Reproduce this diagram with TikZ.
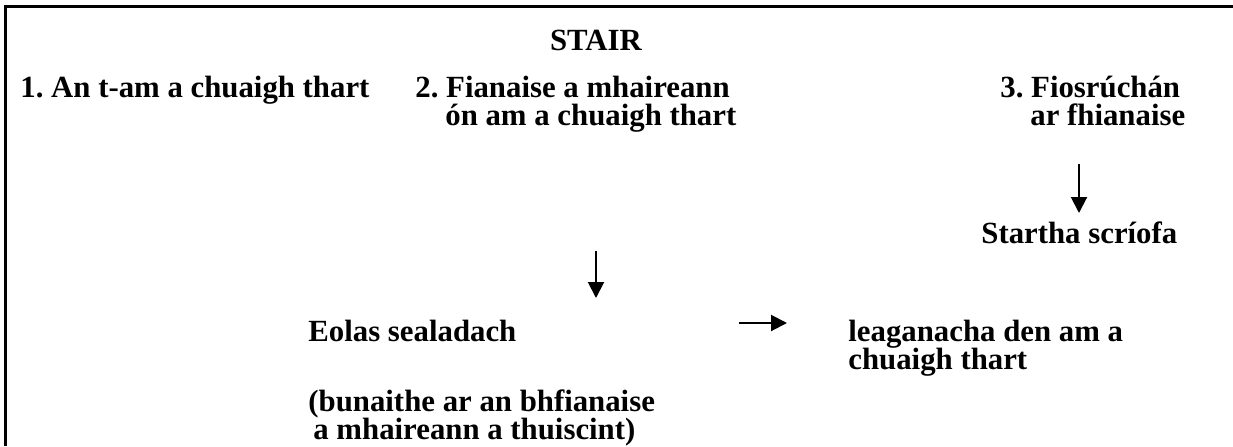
\documentclass[tikz,border=0pt]{standalone}
\usepackage{fontspec}
\setmainfont{Liberation Serif}
\usetikzlibrary{arrows.meta}
\newcommand\mylblfont{\fontsize{15.4}{14}\selectfont\bfseries\frenchspacing\lineskiplimit=-20pt\relax}
\tikzset{
  lbl/.style={anchor=base west, inner sep=0pt, align=left, font=\mylblfont},
  arr/.style={line width=1pt, -{Triangle[width=8pt,length=8pt]}},
  frame/.style={line width=1.5pt}
}
\begin{document}
\begin{tikzpicture}[x=0.5pt,y=-0.5pt]
\useasboundingbox (0,0) rectangle (1233,446);
\coordinate (tl) at (5,6);
\coordinate (tr) at (1233,6);
\coordinate (bl) at (5,446);
\draw[frame] (tr) -- (tl) -- (bl);
\node[lbl, anchor=center] (title) at (596,40) {STAIR};
\node[lbl] (n1) at (20,97) {1. An t-am a chuaigh thart};
\node[lbl] (n2) at (415,125) {2. Fianaise a mhaireann\\\hspace*{15pt}ón am a chuaigh thart};
\node[lbl] (n3) at (1000,125) {3. Fiosrúchán\\\hspace*{15pt}ar fhianaise};
\node[lbl] (hist) at (981,243) {Startha scríofa};
\node[lbl] (eolas) at (308,341) {Eolas sealadach};
\node[lbl] (bun) at (308,439) {(bunaithe ar an bhfianaise\\\hspace*{2.5pt}a mhaireann a thuiscint)};
\node[lbl] (leag) at (848,369) {leaganacha den am a\\chuaigh thart};
\coordinate (a1s) at (1079,164);
\coordinate (a1e) at (1079,213);
\coordinate (a2s) at (596,251);
\coordinate (a2e) at (596,298);
\coordinate (a3s) at (739,323);
\coordinate (a3e) at (787,323);
\draw[arr] (a1s) -- (a1e);
\draw[arr] (a2s) -- (a2e);
\draw[arr] (a3s) -- (a3e);
\end{tikzpicture}
\end{document}
